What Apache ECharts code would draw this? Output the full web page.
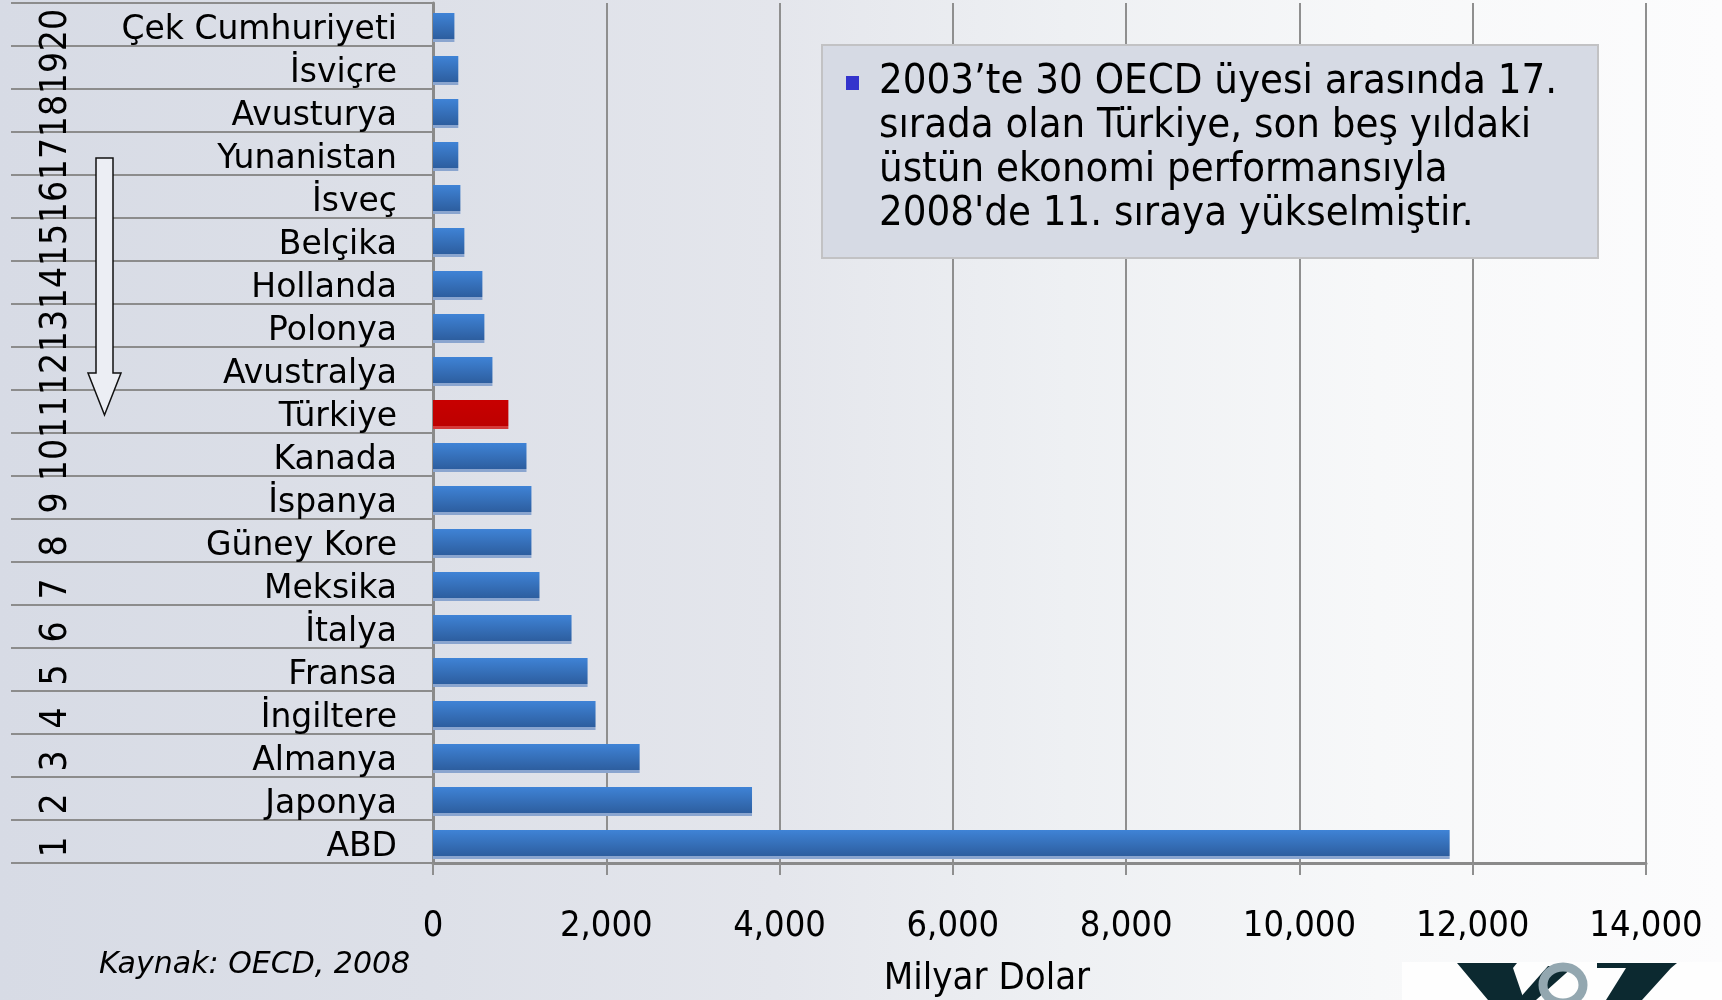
<!DOCTYPE html>
<html><head><meta charset="utf-8">
<script src="https://cdn.jsdelivr.net/npm/echarts/dist/echarts.min.js"></script>
<style>
html,body{margin:0;padding:0;}
body{width:1722px;height:1000px;overflow:hidden;background:linear-gradient(to right,#d7dbe5 0%,#dde0e8 25%,#e4e6ec 45%,#eef0f3 62%,#f7f8f9 80%,#fcfcfd 100%);}
#c{width:1722px;height:1000px;}
</style></head><body><div id="c"></div>
<script>
// Data (bottom to top)
const countries = ['ABD','Japonya','Almanya','İngiltere','Fransa','İtalya','Meksika','Güney Kore','İspanya','Kanada','Türkiye','Avustralya','Polonya','Hollanda','Belçika','İsveç','Yunanistan','Avusturya','İsviçre','Çek Cumhuriyeti'];
const ranks = ['1','2','3','4','5','6','7','8','9','10','11','12','13','14','15','16','17','18','19','20'];
const gdp = [11734,3682,2385,1876,1784,1599,1229,1136,1136,1079,870,686,593,570,362,316,292,292,292,247];
const highlight = 'Türkiye';
const xMin = 0, xMax = 14000, xStep = 2000;
const xName = 'Milyar Dolar';
const sourceNote = 'Kaynak: OECD, 2008';
const noteLines = ['2003’te 30 OECD üyesi arasında 17.','sırada olan Türkiye, son beş yıldaki','üstün ekonomi performansıyla',"2008'de 11. sıraya yükselmiştir."];

const COND = "'DejaVu Sans Condensed','DejaVu Sans',sans-serif";
const SANS = "'DejaVu Sans',sans-serif";
const G = echarts.graphic.LinearGradient;
// bar drawn 35px tall with a transparent top 6px so the visible bar sits slightly low in its row
const T = 'rgba(0,0,0,0)';
const blue = new G(0,0,0,1,[{offset:0,color:T},{offset:0.17,color:T},{offset:0.171,color:'#3f83d6'},{offset:0.913,color:'#2d5e9f'},{offset:0.914,color:'#8aa5cf'},{offset:1,color:'#8aa5cf'}]);
const red = new G(0,0,0,1,[{offset:0,color:T},{offset:0.17,color:T},{offset:0.171,color:'#c80000'},{offset:0.913,color:'#bd0000'},{offset:0.914,color:'#d43a3a'},{offset:1,color:'#d43a3a'}]);

const chart = echarts.init(document.getElementById('c'), null, {renderer:'canvas'});
chart.setOption({
  backgroundColor: 'transparent',
  animation: false,
  grid: {left:433, right:76, top:3, bottom:137, containLabel:false, outerBoundsMode:'none'},
  xAxis: {
    type:'value', min:xMin, max:xMax, interval:xStep,
    name: xName, nameLocation:'middle', nameGap:97,
    nameTextStyle:{fontFamily:COND, fontSize:38, color:'#000', padding:[0,105,0,0]},
    axisLine:{show:true, lineStyle:{color:'#8a8a8a', width:3}},
    axisTick:{show:true, length:12, lineStyle:{color:'#8f8f8f', width:2}},
    splitLine:{show:true, lineStyle:{color:'#8f8f8f', width:2}},
    axisLabel:{fontFamily:COND, fontSize:36, color:'#000', margin:46,
      formatter: v => v.toLocaleString('en-US')}
  },
  yAxis: [{
    type:'category', data:countries, position:'left',
    axisLine:{show:true, lineStyle:{color:'#8a8a8a', width:3}},
    axisTick:{show:true, length:422, lineStyle:{color:'#8c8c8c', width:2}},
    axisLabel:{color:'#000', margin:36, interval:0,
      formatter: v => '{c|' + v + '}',
      rich:{c:{fontFamily:SANS, fontSize:33, color:'#000', padding:[11,0,0,0]}}},
    splitLine:{show:false}
  },{
    type:'category', data:ranks, position:'left', offset:377,
    axisLine:{show:false}, axisTick:{show:false}, splitLine:{show:false},
    axisLabel:{fontFamily:COND, fontSize:37, color:'#000', margin:0, interval:0, rotate:90, align:'center', verticalAlign:'middle', padding:[0,11,0,0]}
  }],
  series: [{
    type:'bar', yAxisIndex:0, barWidth:35,
    data: gdp.map((v,i) => ({value:v, itemStyle:{color: countries[i]===highlight ? red : blue}}))
  }],
  graphic: [
    // note box
    {type:'rect', shape:{x:822, y:45, width:776, height:213}, style:{fill:'#d6dae4', stroke:'#c2c2c4', lineWidth:2}, z:10},
    {type:'rect', shape:{x:846, y:76, width:13, height:14}, style:{fill:'#3333cc'}, z:11},
    {type:'text', x:879, y:60, style:{text:noteLines.join('\n'), font:"41.5px "+COND, fill:'#000', lineHeight:44}, z:11},
    // arrow
    {type:'polygon', shape:{points:[[96,158],[113,158],[113,373],[121,373],[104.5,415],[88,373],[96,373]]},
      style:{fill:'#eceef4', stroke:'#111', lineWidth:1.5}, z:10},
    // source
    {type:'text', x:99, y:965, style:{text:sourceNote, font:"italic 30px "+SANS, fill:'#000', textVerticalAlign:'middle'}, z:10},
    // logo (partial)
    {type:'rect', shape:{x:1402, y:962, width:320, height:38}, style:{fill:'#fefefe'}, z:5},
    {type:'polygon', shape:{points:[[1457,963],[1517,963],[1513,968],[1524,1000],[1488,1000]]}, style:{fill:'#0c2930'}, z:6},
    {type:'polygon', shape:{points:[[1548,966],[1574,966],[1536,1000],[1518,1000]]}, style:{fill:'#0c2930'}, z:6},
    {type:'ellipse', shape:{cx:1563, cy:985, rx:20, ry:18}, style:{fill:'none', stroke:'#93a7b0', lineWidth:9}, z:7},
    {type:'polygon', shape:{points:[[1597,963],[1677,963],[1671,968],[1642,1000],[1606,1000],[1626,968],[1597,968]]}, style:{fill:'#0c2930'}, z:6}
  ]
});
</script></body></html>
